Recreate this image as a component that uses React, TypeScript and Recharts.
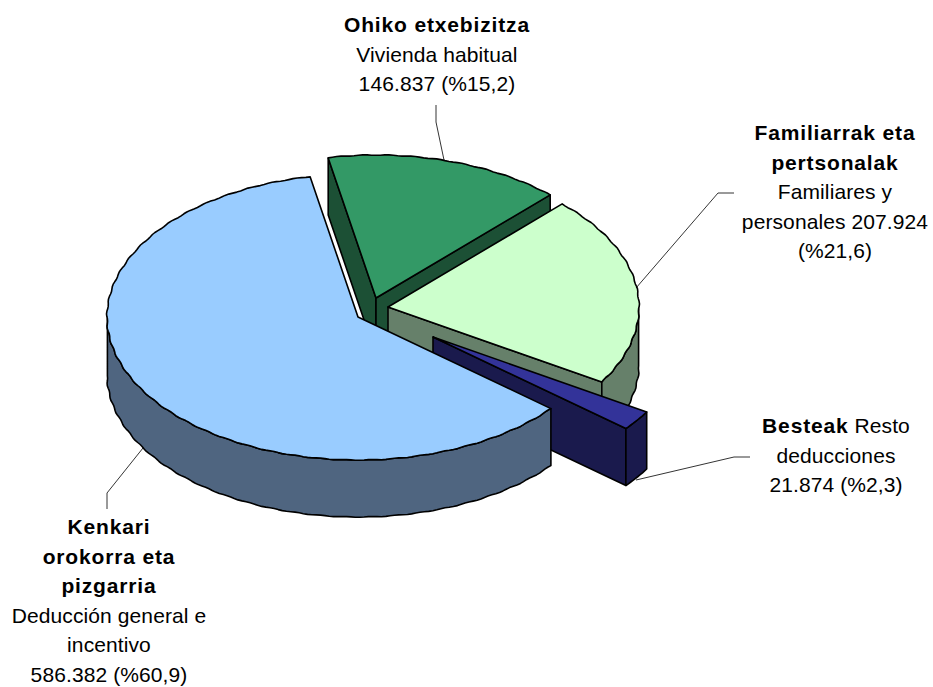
import React from "react";
import { PieChart, Pie } from "recharts";

const names = ["Ohiko etxebizitza", "Familiarrak eta pertsonalak", "Besteak", "Kenkari orokorra eta pizgarria"];
const values = [146837, 207924, 21874, 586382];

const boldLines = [
  ["Ohiko etxebizitza"],
  ["Familiarrak eta", "pertsonalak"],
  [],
  ["Kenkari", "orokorra eta", "pizgarria"],
];
const plainLines = [
  ["Vivienda habitual", "146.837 (%15,2)"],
  ["Familiares y", "personales 207.924", "(%21,6)"],
  ["deducciones", "21.874 (%2,3)"],
  ["Deducción general e", "incentivo", "586.382 (%60,9)"],
];

const tops = ["#339966", "#CCFFCC", "#333399", "#99CCFF"];
const walls = ["#1C5035", "#66806A", "#1A1A4D", "#4F6580"];
const offsets = [[18, -19], [30, -10], [75, 20], [0, 0]];
const labelAt = [
  { x: 437, y: 32 },
  { x: 835, y: 140 },
  { x: 836, y: 433 },
  { x: 109, y: 534 },
];
const leaders = [
  "436,105 436,122 444,160",
  "734,193 718,193 636,288",
  "750,457 734,457 636,480",
  "107,509 107,493 143,448",
];

const W = 933;
const H = 687;
const CX = 358;
const CY = 317;
const R = 251;
const SQUASH = 143 / 251;
const DEPTH = 57;
const LINE = 29.6;
const FONT = "'Liberation Sans', Arial, sans-serif";
const FS = 21;
const BOLD_SPACING = 0.85;
const PLAIN_SPACING = 0.1;

const data = names.map((name, i) => ({ name, value: values[i] }));
const rad = (d: number) => (d * Math.PI) / 180;

function SliceShape(props: any) {
  const { cx, cy, outerRadius, startAngle, endAngle, name } = props;
  const i = names.indexOf(name);
  const [ox, oy] = offsets[i];
  const x0 = cx + ox;
  const y0 = cy + oy;
  const at = (a: number, d = 0): [number, number] => {
    const ripple = i === 2 ? 1 : 1 + 0.0022 * Math.sin(rad(a) * 63);
    return [x0 + outerRadius * ripple * Math.cos(rad(a)), y0 - outerRadius * ripple * SQUASH * Math.sin(rad(a)) + d];
  };
  const arc: number[] = [];
  const n = Math.max(2, Math.ceil(Math.abs(endAngle - startAngle)));
  for (let k = 0; k <= n; k++) arc.push(startAngle + ((endAngle - startAngle) * k) / n);
  const pts = (p: [number, number][]) => p.map(([x, y]) => `${x.toFixed(1)},${y.toFixed(1)}`).join(" ");
  const front = arc.filter((a) => Math.sin(rad(a)) <= 1e-6);
  const faces: [number, number][][] = [];
  if (Math.cos(rad(startAngle)) < 0) {
    const p = at(startAngle);
    const q = at(startAngle, DEPTH);
    faces.push([[x0, y0], p, q, [x0, y0 + DEPTH]]);
  }
  if (Math.cos(rad(endAngle)) > 0) {
    const p = at(endAngle);
    const q = at(endAngle, DEPTH);
    faces.push([[x0, y0], p, q, [x0, y0 + DEPTH]]);
  }
  const common = { stroke: "#000", strokeWidth: 1.6, strokeLinejoin: "round" as const };
  return (
    <g>
      {faces.map((f, k) => (
        <polygon key={k} points={pts(f)} fill={walls[i]} {...common} />
      ))}
      {front.length > 1 && (
        <polygon
          points={pts([...front.map((a) => at(a)), ...[...front].reverse().map((a) => at(a, DEPTH))])}
          fill={walls[i]}
          {...common}
        />
      )}
      <polygon points={pts([[x0, y0], ...arc.map((a) => at(a))])} fill={tops[i]} {...common} />
    </g>
  );
}

function SliceLabel(props: any) {
  const i = names.indexOf(props.name);
  const { x, y } = labelAt[i];
  const bold = boldLines[i];
  const plain = plainLines[i];
  return (
    <g fontFamily={FONT} fontSize={FS} fill="#000" textAnchor="middle">
      <polyline points={leaders[i]} fill="none" stroke="#000" strokeWidth={0.8} />
      {i === 2 ? (
        <text x={x} y={y} letterSpacing={PLAIN_SPACING}>
          <tspan fontWeight="bold" letterSpacing={BOLD_SPACING}>Besteak</tspan>
          <tspan>{"  Resto"}</tspan>
        </text>
      ) : null}
      {bold.map((t, k) => (
        <text key={t} x={x} y={y + k * LINE} fontWeight="bold" letterSpacing={BOLD_SPACING}>
          {t}
        </text>
      ))}
      {plain.map((t, k) => (
        <text key={t} x={x} y={y + (bold.length + (i === 2 ? 1 : 0) + k) * LINE} letterSpacing={PLAIN_SPACING}>
          {t}
        </text>
      ))}
    </g>
  );
}

export default function App() {
  return (
    <div style={{ position: "absolute", left: 0, top: 0, width: W, height: H }}>
      <PieChart width={W} height={H} margin={{ top: 0, right: 0, bottom: 0, left: 0 }}>
        <Pie
          data={data}
          dataKey="value"
          nameKey="name"
          cx={CX}
          cy={CY}
          innerRadius={0}
          outerRadius={R}
          startAngle={101}
          endAngle={-259}
          paddingAngle={0}
          stroke="none"
          isAnimationActive={false}
          shape={SliceShape}
          label={SliceLabel}
          labelLine={false}
        />
      </PieChart>
    </div>
  );
}
